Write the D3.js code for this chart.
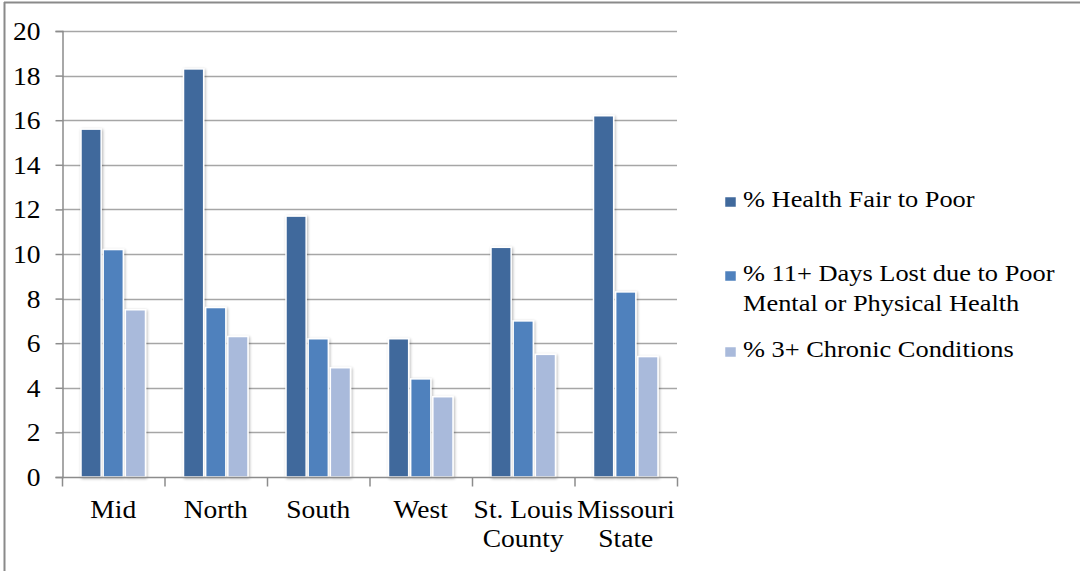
<!DOCTYPE html>
<html>
<head>
<meta charset="utf-8">
<script src="https://cdn.jsdelivr.net/npm/d3@7"></script>
</head>
<body style="margin:0;background:#fff">
<svg id="chart" width="1080" height="571" style="display:block"></svg>
<script>
// Regional health indicators (percent of adults)
const categories = [["Mid"], ["North"], ["South"], ["West"], ["St. Louis", "County"], ["Missouri", "State"]];
const seriesNames = ["% Health Fair to Poor", "% 11+ Days Lost due to Poor Mental or Physical Health", "% 3+ Chronic Conditions"];
const legendLines = [["% Health Fair to Poor"], ["% 11+ Days Lost due to Poor", "Mental or Physical Health"], ["% 3+ Chronic Conditions"]];
const healthFairPoor = [15.6, 18.3, 11.7, 6.2, 10.3, 16.2];
const daysLost = [10.2, 7.6, 6.2, 4.4, 7.0, 8.3];
const chronic = [7.5, 6.3, 4.9, 3.6, 5.5, 5.4];
const yTicks = [0, 2, 4, 6, 8, 10, 12, 14, 16, 18, 20];
const colors = ["#40699c", "#4f81bd", "#a9badb"];

const FONT = '"Liberation Serif"';
const STRETCH = 1.1;   // text is set slightly wide
const series = [healthFairPoor, daysLost, chronic];
const svg = d3.select("#chart");

// outer frame
svg.append("line").attr("x1", 4.5).attr("x2", 4.5).attr("y1", 2).attr("y2", 571)
  .attr("stroke", "#8a8a8a").attr("stroke-width", 2);
svg.append("line").attr("x1", 4).attr("x2", 1080).attr("y1", 2.5).attr("y2", 2.5)
  .attr("stroke", "#8a8a8a").attr("stroke-width", 2);

const plot = { left: 62, right: 677, top: 31, bottom: 477 };

const x = d3.scaleBand().domain(d3.range(categories.length))
  .range([plot.left, plot.right]).paddingInner(0).paddingOuter(0);
const xInner = d3.scaleBand().domain(d3.range(series.length))
  .range([18, x.bandwidth() - 18]).padding(0);
const y = d3.scaleLinear().domain([0, 20]).range([plot.bottom, plot.top]);

// shadow for the bars
const defs = svg.append("defs");
const f = defs.append("filter").attr("id", "shadow").attr("x", "-30%").attr("y", "-10%")
  .attr("width", "160%").attr("height", "120%");
f.append("feGaussianBlur").attr("in", "SourceAlpha").attr("stdDeviation", 1.6).attr("result", "b");
f.append("feOffset").attr("in", "b").attr("dx", 1).attr("dy", 1).attr("result", "o");
f.append("feComponentTransfer").attr("in", "o").attr("result", "s")
  .append("feFuncA").attr("type", "linear").attr("slope", 0.3);
const m = f.append("feMerge");
m.append("feMergeNode").attr("in", "s");
m.append("feMergeNode").attr("in", "SourceGraphic");

// horizontal gridlines
svg.append("g").selectAll("line").data(yTicks.filter(t => t > 0)).join("line")
  .attr("x1", plot.left).attr("x2", plot.right)
  .attr("y1", d => Math.round(y(d)) + 0.5).attr("y2", d => Math.round(y(d)) + 0.5)
  .attr("stroke", "#a6a6a6").attr("stroke-width", 1.5);

// y axis
const yAxis = svg.append("g").attr("transform", `translate(${plot.left + 0.5},0)`)
  .call(d3.axisLeft(y).tickValues(yTicks).tickSize(7).tickPadding(12).tickFormat(d3.format("d")));
yAxis.select(".domain").attr("stroke", "#8c8c8c").attr("stroke-width", 1.5);
yAxis.selectAll(".tick line").attr("stroke", "#8c8c8c").attr("stroke-width", 1.5);
yAxis.selectAll(".tick text")
  .style("font-family", FONT).style("font-size", "25px").attr("fill", "#000")
  .attr("x", -22 / STRETCH).attr("dy", "0.34em")
  .attr("transform", `scale(${STRETCH},1)`);

// bars
const groups = svg.append("g").selectAll("g").data(series).join("g")
  .attr("fill", (d, i) => colors[i]);
groups.each(function (vals, si) {
  d3.select(this).selectAll("rect").data(vals).join("rect")
    .attr("x", (d, ci) => x(ci) + xInner(si) + 1)
    .attr("width", xInner.bandwidth() - 2)
    .attr("y", d => y(d))
    .attr("height", d => y(0) - y(d))
    .attr("stroke", "#fff").attr("stroke-width", 1.5)
    .attr("filter", "url(#shadow)");
});

// x axis
const xAxis = svg.append("g").attr("transform", `translate(0,${plot.bottom + 0.5})`);
xAxis.append("line").attr("x1", plot.left).attr("x2", plot.right)
  .attr("stroke", "#8c8c8c").attr("stroke-width", 1.5);
xAxis.selectAll("line.tk").data(d3.range(categories.length + 1)).join("line")
  .attr("class", "tk")
  .attr("x1", i => plot.left + i * x.step() + 0.5).attr("x2", i => plot.left + i * x.step() + 0.5)
  .attr("y1", 0).attr("y2", 9).attr("stroke", "#8c8c8c").attr("stroke-width", 1.5);
xAxis.selectAll("text").data(categories).join("text")
  .attr("text-anchor", "middle").style("font-family", FONT).style("font-size", "25px").attr("fill", "#000")
  .attr("transform", (d, i) => `translate(${x(i) + x.bandwidth() / 2},${40}) scale(${STRETCH},1)`)
  .each(function (lines) {
    d3.select(this).selectAll("tspan").data(lines).join("tspan")
      .attr("x", 0).attr("dy", (d, k) => k === 0 ? 0 : 30).text(d => d);
  });

// legend
const legendBase = [207, 281, 357];
const legend = svg.append("g").selectAll("g").data(seriesNames).join("g")
  .attr("transform", (d, i) => `translate(725,${legendBase[i]})`);
legend.append("rect").attr("x", 0).attr("y", -10).attr("width", 11).attr("height", 10)
  .attr("fill", (d, i) => colors[i]).attr("stroke", "#fff").attr("stroke-width", 0.5);
legend.append("text").attr("transform", `translate(18,0) scale(${STRETCH},1)`)
  .style("font-family", FONT).style("font-size", "24px").attr("fill", "#000")
  .each(function (d, i) {
    d3.select(this).selectAll("tspan").data(legendLines[i]).join("tspan")
      .attr("x", 0).attr("dy", (t, k) => k === 0 ? 0 : 30).text(t => t);
  });
</script>
</body>
</html>
